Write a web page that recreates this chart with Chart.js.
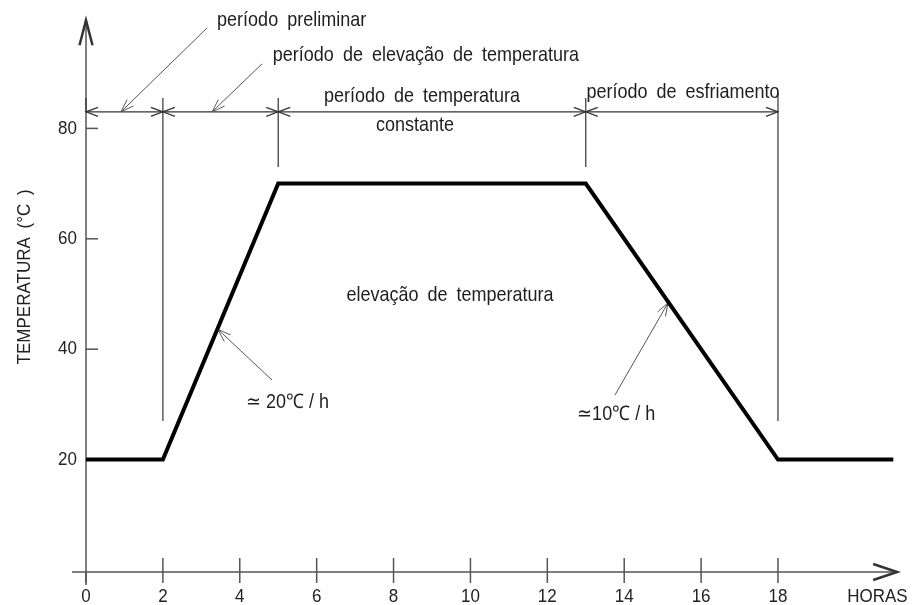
<!DOCTYPE html>
<html>
<head>
<meta charset="utf-8">
<script src="https://cdn.jsdelivr.net/npm/chart.js@4.4.1/dist/chart.umd.min.js"></script>
<style>
html,body{margin:0;padding:0;background:#fff}
#c{display:block}
</style>
</head>
<body>
<canvas id="c" width="912" height="605"></canvas>
<script>
// ciclo de cura térmica: temperatura (°C) ao longo das horas
const horas=[0,2,5,13,18,21];
const temperaturas=[20,20,70,70,20,20];
const xTicks=[0,2,4,6,8,10,12,14,16,18];
const yTicks=[20,40,60,80];
const limites=[0,2,5,13,18];          // fronteiras dos períodos (h)
const cotaT=83;                        // altura da linha de cota (°C)

// textos (posições em horas / °C); esp = espaçamento extra entre palavras
const textos=[
  {t:'período preliminar',h:3.41,v:99.5,a:'left',esp:4},
  {t:'período de elevação de temperatura',h:4.86,v:93.3,a:'left',esp:4},
  {t:'período de temperatura',h:8.74,v:85.8,a:'center',esp:4},
  {t:'constante',h:8.56,v:80.6,a:'center',esp:4},
  {t:'período de esfriamento',h:15.53,v:86.6,a:'center',esp:4},
  {t:'elevação de temperatura',h:9.47,v:49.8,a:'center',esp:4},
  {t:'≃ 20℃ / h',h:5.24,v:30.4,a:'center',esp:0},
  {t:'≃10℃ / h',h:13.79,v:28.1,a:'center',esp:0}
];
// setas de chamada: [h0,v0,h1,v1], ponta em (h1,v1)
const chamadas=[
  [3.15,98.2,0.91,83],
  [4.58,91.7,3.28,83],
  [4.84,34.4,3.43,43.6],
  [13.76,31.7,15.14,48.4]
];
// linhas de chamada verticais: [h, vTopo, vBase]
const extensoes=[[2,85.5,27],[5,85.5,73],[13,85.5,73],[18,86.5,27]];

const FONT='Arial, "Liberation Sans", sans-serif';
const ESTICA=1.12;   // letras um pouco mais altas

function seg(ctx,x1,y1,x2,y2){ctx.beginPath();ctx.moveTo(x1,y1);ctx.lineTo(x2,y2);ctx.stroke();}
// seta aberta com ponta em (tx,ty), vindo da direção de (fx,fy)
function seta(ctx,tx,ty,fx,fy,len,half){
  const a=Math.atan2(ty-fy,tx-fx),c=Math.cos(a),s=Math.sin(a);
  const bx=tx-len*c,by=ty-len*s;
  ctx.beginPath();
  ctx.moveTo(bx-half*s,by+half*c);ctx.lineTo(tx,ty);ctx.lineTo(bx+half*s,by-half*c);
  ctx.stroke();
}
function texto(ctx,t,x,y,rot){
  ctx.save();
  ctx.translate(x,y);
  if(rot)ctx.rotate(rot);
  ctx.scale(1,ESTICA);
  ctx.fillText(t,0,0);
  ctx.restore();
}

const desenho={
  id:'desenho',
  beforeDatasetsDraw(chart){
    const ctx=chart.ctx,sx=chart.scales.x,sy=chart.scales.y;
    const X=v=>sx.getPixelForValue(v),Y=v=>sy.getPixelForValue(v);
    const temWS='wordSpacing' in ctx;
    ctx.save();
    ctx.strokeStyle='#555';ctx.lineWidth=1.5;ctx.lineCap='butt';
    const x0=X(0),y0=Y(0)+2;
    // eixos
    seg(ctx,x0-14,y0,X(21.1),y0);
    seg(ctx,x0,y0+13,x0,Y(99.6));
    ctx.lineWidth=2.5;ctx.strokeStyle='#333';
    seta(ctx,X(21.1),y0,X(20),y0,24,8);
    seta(ctx,x0,Y(99.6),x0,Y(80),25,6.5);
    // marcas
    ctx.lineWidth=1.5;ctx.strokeStyle='#555';
    xTicks.forEach(v=>{ if(v===0)seg(ctx,x0,y0,x0,y0+11); else seg(ctx,X(v),y0-14,X(v),y0+11); });
    yTicks.forEach(v=>seg(ctx,x0,Y(v),x0+12,Y(v)));
    // rótulos
    ctx.fillStyle='#222';ctx.font='17px '+FONT;ctx.textBaseline='middle';
    ctx.textAlign='center';
    xTicks.forEach(v=>texto(ctx,String(v),X(v),y0+25));
    ctx.textAlign='right';
    yTicks.forEach(v=>texto(ctx,String(v),x0-9,Y(v)));
    ctx.textAlign='left';
    texto(ctx,'HORAS',X(19.8),y0+25);
    ctx.textAlign='center';
    if(temWS)ctx.wordSpacing='4px';
    texto(ctx,'TEMPERATURA (°C )',X(-1.59),Y(53.1),-Math.PI/2);
    // linha de cota dos períodos
    ctx.strokeStyle='#333';ctx.lineWidth=1.2;
    const yc=Y(cotaT);
    seg(ctx,X(limites[0]),yc,X(limites[limites.length-1]),yc);
    for(let i=0;i<limites.length-1;i++){
      const a=X(limites[i]),b=X(limites[i+1]);
      seta(ctx,a,yc,b,yc,12,4.5);
      seta(ctx,b,yc,a,yc,12,4.5);
    }
    extensoes.forEach(([h,t,b])=>seg(ctx,X(h),Y(t),X(h),Y(b)));
    seg(ctx,x0,Y(85.5),x0,yc);
    // chamadas
    ctx.strokeStyle='#555';ctx.lineWidth=1;
    chamadas.forEach(([h0,v0,h1,v1])=>{
      seg(ctx,X(h0),Y(v0),X(h1),Y(v1));
      seta(ctx,X(h1),Y(v1),X(h0),Y(v0),13,4.5);
    });
    // textos
    ctx.fillStyle='#1e1e1e';ctx.font='18px '+FONT;
    textos.forEach(o=>{
      ctx.textAlign=o.a;
      if(temWS)ctx.wordSpacing=o.esp+'px';
      texto(ctx,o.t,X(o.h),Y(o.v));
    });
    ctx.restore();
  }
};

new Chart(document.getElementById('c'),{
  type:'line',
  data:{datasets:[{
    data:horas.map((h,i)=>({x:h,y:temperaturas[i]})),
    borderColor:'#000',borderWidth:4,pointRadius:0,tension:0,fill:false,
    borderJoinStyle:'miter',borderCapStyle:'butt'
  }]},
  options:{
    responsive:false,animation:false,devicePixelRatio:1,
    layout:{padding:{left:86,right:11,top:18,bottom:35}},
    plugins:{legend:{display:false},tooltip:{enabled:false}},
    scales:{
      x:{type:'linear',min:0,max:21.2,display:false},
      y:{type:'linear',min:0,max:100,display:false}
    }
  },
  plugins:[desenho]
});
</script>
</body>
</html>
